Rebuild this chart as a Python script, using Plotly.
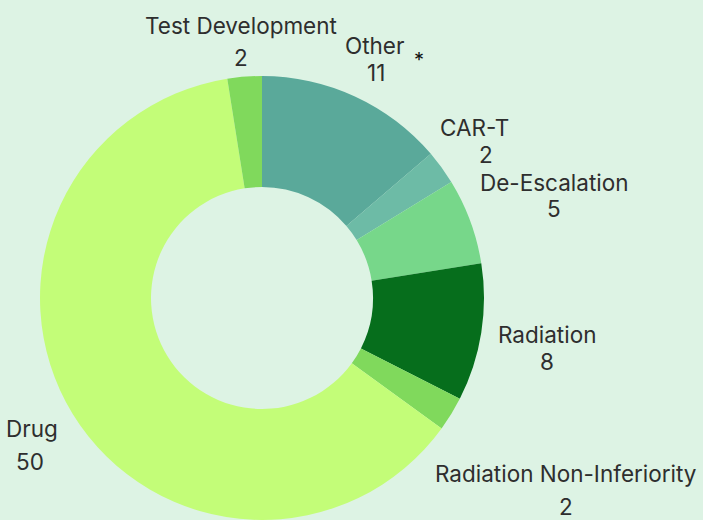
import plotly.graph_objects as go

labels = ["Other", "CAR-T", "De-Escalation", "Radiation", "Radiation Non-Inferiority", "Drug", "Test Development"]
values = [11, 2, 5, 8, 2, 50, 2]
colors = ["#5aa99a", "#6dbba6", "#77d78a", "#066e1c", "#80d95c", "#c3fd78", "#80d95c"]

# label placement (pixel centres of label / value lines)
label_pos = {
    "Test Development": (241, 25, 241, 57),
    "Other": (374, 45, 376, 73),
    "CAR-T": (474, 127, 486, 154),
    "De-Escalation": (554, 182, 554, 208),
    "Radiation": (547, 334, 547, 361),
    "Radiation Non-Inferiority": (566, 473, 566, 506),
    "Drug": (32, 428, 30, 461),
}

W, H = 703, 520
fig = go.Figure(go.Pie(
    labels=labels, values=values, sort=False, direction="clockwise", rotation=0,
    hole=0.5, marker=dict(colors=colors, line=dict(width=0)),
    textinfo="none", hoverinfo="label+value",
    domain=dict(x=[40 / W, 484 / W], y=[0, 444 / H]),
))

font = dict(family="Inter, sans-serif", size=22.5, color="#2e2e2e")
ann = []
for lab, val in zip(labels, values):
    lx, ly, vx, vy = label_pos[lab]
    ann.append(dict(x=lx / W, y=1 - ly / H, xref="paper", yref="paper", text=lab,
                    showarrow=False, font=font, xanchor="center", yanchor="middle"))
    ann.append(dict(x=vx / W, y=1 - vy / H, xref="paper", yref="paper", text=str(val),
                    showarrow=False, font=font, xanchor="center", yanchor="middle"))
ann.append(dict(x=419 / W, y=1 - 60 / H, xref="paper", yref="paper", text="*",
                showarrow=False, font=dict(family="Inter, sans-serif", size=20, color="#111111"),
                xanchor="center", yanchor="middle"))

fig.update_layout(
    width=W, height=H, margin=dict(l=0, r=0, t=0, b=0),
    paper_bgcolor="#ddf3e4", plot_bgcolor="#ddf3e4",
    showlegend=False, annotations=ann,
)
fig.write_html(
    "out.html",
    config={"displayModeBar": False},
    post_script="document.body.style.margin='0';document.body.style.background='#ddf3e4';",
)
